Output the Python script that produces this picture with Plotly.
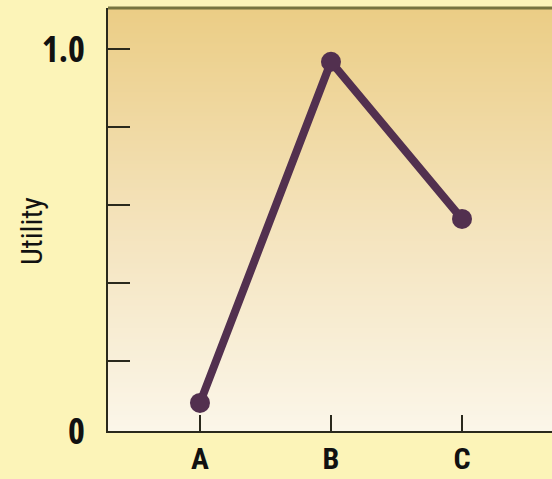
import plotly.graph_objects as go

# Data
categories = ["A", "B", "C"]
utility = [0.092, 0.967, 0.564]
y_tick_values = [0.02, 0.2, 0.4, 0.6, 0.8, 1.0]
y_tick_labels = ["0", "", "", "", "", "1.0"]
y_title = "Utility"

x_pos = list(range(len(categories)))
X_RANGE = [-0.702, 2.687]
Y_RANGE = [0.02, 1.105]

LINE_COLOR = "#52304F"

fig = go.Figure()

# gradient background of the plotting area
fig.add_trace(go.Heatmap(
    x=[-1.5, 3.5],
    y=[-0.3, 0.02, 0.55, 1.105, 1.4],
    z=[[0, 0], [0, 0], [0.5, 0.5], [1, 1], [1, 1]],
    zsmooth="best",
    colorscale=[[0, "#FBF6E9"], [0.5, "#F4E3BC"], [1, "#EBCD85"]],
    showscale=False, hoverinfo="skip",
))

fig.add_trace(go.Scatter(
    x=x_pos, y=utility, mode="lines+markers",
    line=dict(color=LINE_COLOR, width=8),
    marker=dict(color=LINE_COLOR, size=20, symbol="circle"),
    hoverinfo="skip", showlegend=False,
))

fig.update_layout(
    width=552, height=479,
    margin=dict(l=108, r=0, t=8, b=48),
    paper_bgcolor="#FCF4B8",
    plot_bgcolor="#F4E3BC",
    showlegend=False,
    xaxis=dict(
        range=X_RANGE, tickvals=x_pos, ticktext=categories,
        showgrid=False, zeroline=False, automargin=False,
        showline=True, linecolor="#2A291C", linewidth=2,
        ticks="inside", ticklen=16, tickwidth=2, tickcolor="#2A291C",
        tickfont=dict(family="Roboto, sans-serif", size=30, color="#111111", weight="bold"),
        ticklabelstandoff=0,
    ),
    yaxis=dict(
        range=Y_RANGE, tickvals=y_tick_values, ticktext=y_tick_labels,
        showgrid=False, zeroline=False, automargin=False,
        showline=True, linecolor="#2A291C", linewidth=2,
        ticks="inside", ticklen=22, tickwidth=2, tickcolor="#2A291C",
        tickfont=dict(family="Open Sans, sans-serif", size=36, color="#111111", weight="bold"),
        ticklabelstandoff=14,
    ),
    shapes=[dict(type="line", xref="paper", yref="paper", x0=0, x1=1, y0=1, y1=1,
                 line=dict(color="#77743F", width=3))],
    annotations=[dict(
        text=y_title, xref="paper", yref="paper", x=-0.171, y=0.473,
        xanchor="center", yanchor="middle", showarrow=False, textangle=-90,
        font=dict(family="Roboto Condensed, DejaVu Sans Condensed, sans-serif", size=30,
                  color="#111111"),
    )],
)

post = """
document.body.style.margin = '0';
document.documentElement.style.overflow = 'hidden';
function condense() {
  document.querySelectorAll('.main-svg text').forEach(function (t) {
    t.style.fontStretch = '75%';
  });
}
condense();
setTimeout(condense, 0);
"""

fig.write_html("out.html", post_script=post, config={"displayModeBar": False})
